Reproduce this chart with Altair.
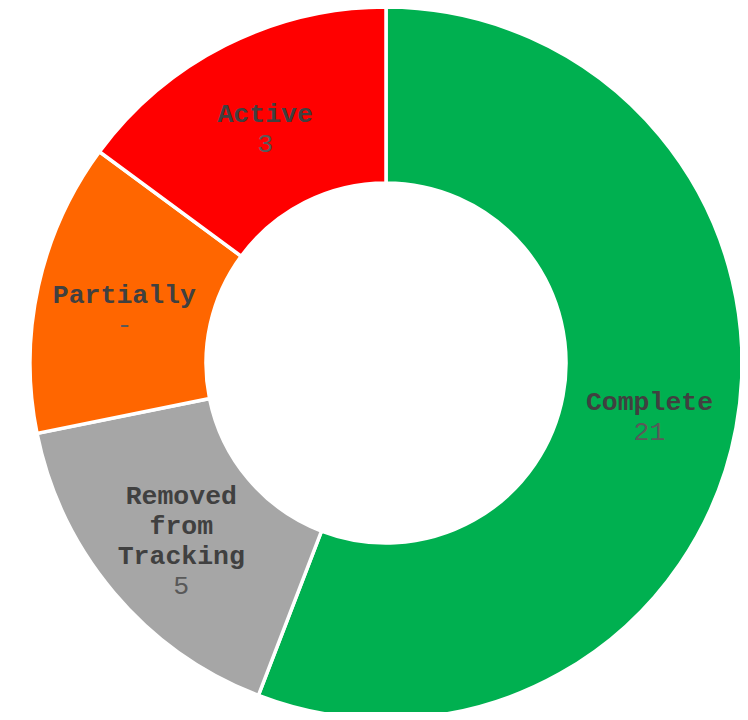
import altair as alt
import pandas as pd
import math

statuses = ["Complete", "Removed from Tracking", "Partially", "Active"]
name_lines = ["Complete", "Removed\nfrom\nTracking", "Partially", "Active"]
value_labels = ["21", "5", "-", "3"]
# angular share of each slice (degrees)
slice_share = [201.0, 57.6, 47.8, 53.6]
colors = ["#00B050", "#A6A6A6", "#FF6600", "#FF0000"]

df = pd.DataFrame({
    "status": statuses,
    "order": list(range(len(statuses))),
    "share": slice_share,
    "name_text": name_lines,
    "value_text": value_labels,
})

CX, CY = 378, 355
LH = 30
total = sum(slice_share)
theta_scale = alt.Scale(domain=[0, total], range=[0, 2 * math.pi])

base = alt.Chart(df).transform_window(
    cum="sum(share)", sort=[alt.SortField("order")], frame=[None, 0]
).transform_calculate(
    start="datum.cum - datum.share",
    mid="datum.cum - datum.share / 2",
    nlines="length(split(datum.name_text, '\\n'))",
).transform_calculate(
    name_off=f"-datum.nlines * {LH / 2} + 5",
    value_off=f"datum.nlines * {LH / 2} + 5",
).encode(
    x=alt.value(CX),
    y=alt.value(CY),
)

arcs = base.mark_arc(innerRadius=180, outerRadius=356, stroke="white", strokeWidth=3.5).encode(
    theta=alt.Theta("start:Q", scale=theta_scale, stack=None),
    theta2="cum:Q",
    color=alt.Color("status:N", scale=alt.Scale(domain=statuses, range=colors), legend=None),
)

names = base.mark_text(
    radius=268, font="Liberation Mono", fontSize=26.5, fontWeight="bold",
    color="#404040", lineBreak="\n", lineHeight=LH, align="center", baseline="middle"
).encode(
    theta=alt.Theta("mid:Q", scale=theta_scale, stack=None),
    text="name_text:N",
    yOffset=alt.YOffset("name_off:Q", scale=None),
)

values = base.mark_text(
    radius=268, font="Liberation Mono", fontSize=26.5, fontWeight="normal",
    color="#595959", align="center", baseline="middle"
).encode(
    theta=alt.Theta("mid:Q", scale=theta_scale, stack=None),
    text="value_text:N",
    yOffset=alt.YOffset("value_off:Q", scale=None),
)

chart = alt.layer(arcs, names, values).properties(
    width=732, height=704, padding=0,
    autosize=alt.AutoSizeParams(type="none"),
).configure_view(stroke=None)

chart.save("out.html", embed_options={"renderer": "svg", "actions": False})
